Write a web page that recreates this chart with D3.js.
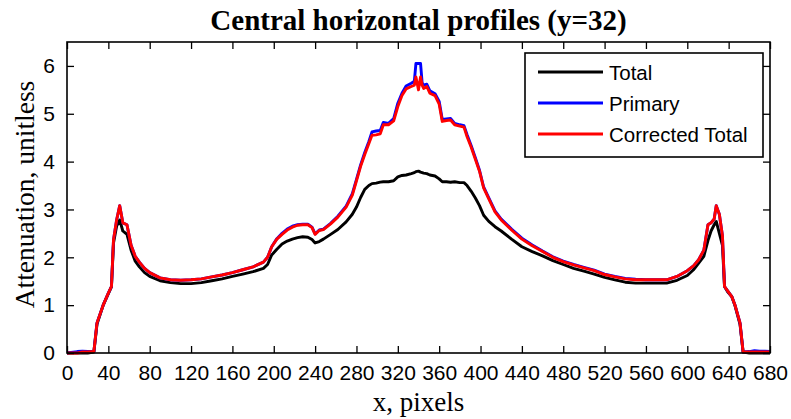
<!DOCTYPE html>
<html>
<head>
<meta charset="utf-8">
<script src="https://cdnjs.cloudflare.com/ajax/libs/d3/7.8.5/d3.min.js"></script>
<style>
  html, body { margin: 0; padding: 0; background: #fff; }
  svg { display: block; }
</style>
</head>
<body>
<svg id="chart" width="791" height="419"></svg>
<script>
// Column positions (pixels along the central row)
const xPos = [0, 10, 15, 20, 26, 29, 35, 40, 43, 45, 48, 51, 54, 58, 62, 66, 70, 75, 80, 90, 100, 110, 120, 130, 140, 150, 160, 170, 180, 190,
  194, 198, 203, 208, 213, 218, 223, 228, 233, 237, 240, 244, 248, 255, 262, 270, 276, 280, 284, 288, 292, 295, 299, 303, 306, 311, 316, 320, 324, 328,
  333, 336, 337.5, 340, 342, 343.5, 345, 348, 351, 356, 360, 363, 367, 371, 375, 380, 384, 387, 391, 395, 399, 403, 408, 414, 420, 430, 440, 450,
  460, 470, 480, 490, 500, 510, 520, 530, 540, 550, 560, 570, 580, 590, 600, 606, 611, 616, 620, 623, 626, 628, 631, 634, 636, 639, 643, 646,
  651, 654, 660, 665, 670, 675, 680];

// Total attenuation
const totalVals = [0, 0, 0, 0, 0.02, 0.6, 1.0, 1.24, 1.38, 2.3, 2.65, 2.78, 2.55, 2.48, 2.15, 1.92, 1.8, 1.68, 1.6, 1.51, 1.47, 1.45, 1.45, 1.47, 1.51, 1.55, 1.6, 1.65, 1.7, 1.77,
  1.85, 2.05, 2.17, 2.28, 2.34, 2.38, 2.41, 2.43, 2.42, 2.37, 2.30, 2.33, 2.38, 2.48, 2.58, 2.74, 2.9, 3.05, 3.25, 3.42, 3.5, 3.54, 3.55, 3.57, 3.58, 3.58, 3.60, 3.68, 3.71, 3.72,
  3.75, 3.77, 3.79, 3.80, 3.78, 3.77, 3.76, 3.75, 3.72, 3.70, 3.64, 3.58, 3.58, 3.57, 3.58, 3.56, 3.56, 3.50, 3.38, 3.24, 3.08, 2.88, 2.75, 2.64, 2.55, 2.38, 2.22, 2.12,
  2.03, 1.93, 1.85, 1.77, 1.71, 1.65, 1.58, 1.53, 1.48, 1.46, 1.46, 1.46, 1.46, 1.52, 1.62, 1.74, 1.88, 2.02, 2.35, 2.55, 2.68, 2.75, 2.5, 2.25, 1.39, 1.28, 1.18, 1.0,
  0.6, 0.02, 0, 0, 0, 0, 0];

// Primary attenuation
const primaryVals = [0, 0.03, 0.04, 0.03, 0.03, 0.63, 1.0, 1.25, 1.39, 2.37, 2.78, 3.08, 2.72, 2.68, 2.25, 2.02, 1.9, 1.77, 1.68, 1.57, 1.53, 1.52, 1.53, 1.55, 1.59, 1.63, 1.68, 1.74, 1.8, 1.9,
  2.0, 2.22, 2.39, 2.5, 2.59, 2.65, 2.68, 2.69, 2.69, 2.63, 2.49, 2.57, 2.59, 2.71, 2.86, 3.07, 3.33, 3.63, 3.93, 4.19, 4.42, 4.62, 4.64, 4.65, 4.82, 4.8, 4.9, 5.22, 5.43, 5.58,
  5.64, 5.68, 6.05, 6.05, 6.05, 5.65, 5.6, 5.62, 5.48, 5.42, 5.26, 4.88, 4.89, 4.9, 4.8, 4.77, 4.75, 4.56, 4.33, 4.08, 3.82, 3.47, 3.24, 2.97, 2.8, 2.59, 2.4, 2.26,
  2.13, 2.01, 1.92, 1.85, 1.79, 1.73, 1.65, 1.6, 1.56, 1.54, 1.53, 1.53, 1.53, 1.6, 1.72, 1.82, 1.95, 2.15, 2.68, 2.72, 2.8, 3.08, 2.9, 2.45, 1.39, 1.3, 1.18, 1.01,
  0.63, 0.02, 0.03, 0.05, 0.04, 0.04, 0.03];

// Corrected total attenuation
const correctedVals = [0, 0, 0.02, 0.02, 0.03, 0.63, 1.0, 1.25, 1.39, 2.37, 2.78, 3.08, 2.72, 2.68, 2.25, 2.02, 1.9, 1.77, 1.68, 1.57, 1.53, 1.52, 1.53, 1.55, 1.59, 1.63, 1.68, 1.74, 1.8, 1.9,
  2.0, 2.22, 2.38, 2.48, 2.57, 2.63, 2.67, 2.68, 2.68, 2.62, 2.48, 2.56, 2.58, 2.70, 2.84, 3.05, 3.3, 3.6, 3.9, 4.15, 4.38, 4.55, 4.56, 4.58, 4.77, 4.77, 4.85, 5.15, 5.38, 5.52,
  5.57, 5.6, 5.77, 5.5, 5.77, 5.6, 5.53, 5.57, 5.43, 5.38, 5.2, 4.84, 4.86, 4.87, 4.77, 4.74, 4.72, 4.52, 4.3, 4.05, 3.8, 3.45, 3.22, 2.95, 2.78, 2.57, 2.38, 2.24,
  2.12, 2.0, 1.91, 1.84, 1.78, 1.72, 1.64, 1.59, 1.55, 1.53, 1.53, 1.53, 1.53, 1.6, 1.72, 1.82, 1.95, 2.15, 2.68, 2.72, 2.8, 3.08, 2.9, 2.45, 1.39, 1.3, 1.18, 1.01,
  0.63, 0.02, 0.02, 0.02, 0.02, 0.02, 0.02];

const xTicks = [0, 40, 80, 120, 160, 200, 240, 280, 320, 360, 400, 440, 480, 520, 560, 600, 640, 680];
const yTicks = [0, 1, 2, 3, 4, 5, 6];

const seriesNames = ["Total", "Primary", "Corrected Total"];
const seriesColors = ["#000000", "#0000ff", "#ff0000"];
const seriesVals = [totalVals, primaryVals, correctedVals];

const svg = d3.select("#chart");
const plot = { left: 67, right: 770, top: 42, bottom: 353 };

const x = d3.scaleLinear().domain([0, 680]).range([plot.left, plot.right]);
const y = d3.scaleLinear().domain([0, 6.5]).range([plot.bottom, plot.top]);

const tickFont = "'Liberation Sans', Arial, sans-serif";
const serif = "'Liberation Serif', 'Times New Roman', serif";

// Data lines, drawn under the axis frame
const line = d3.line()
  .x(d => x(d[0]))
  .y(d => y(d[1]));

seriesVals.forEach((vals, i) => {
  const pts = xPos.map((xv, j) => [xv, vals[j]]);
  svg.append("path")
    .datum(pts)
    .attr("fill", "none")
    .attr("stroke", seriesColors[i])
    .attr("stroke-width", 2.9)
    .attr("stroke-linejoin", "round")
    .attr("d", line);
});

// Axes with inward ticks on all four sides
const tickLen = 7;
const bottomAxis = d3.axisBottom(x).tickValues(xTicks).tickSizeInner(-tickLen).tickSizeOuter(0).tickPadding(12).tickFormat(d3.format("d"));
const topAxis = d3.axisTop(x).tickValues(xTicks).tickSizeInner(-tickLen).tickSizeOuter(0).tickFormat("");
const leftAxis = d3.axisLeft(y).tickValues(yTicks).tickSizeInner(-tickLen).tickSizeOuter(0).tickPadding(12).tickFormat(d3.format("d"));
const rightAxis = d3.axisRight(y).tickValues(yTicks).tickSizeInner(-tickLen).tickSizeOuter(0).tickFormat("");

function styleAxis(g) {
  g.select(".domain").remove();
  g.selectAll(".tick line").attr("stroke", "#000").attr("stroke-width", 1.3);
  g.selectAll(".tick text")
    .attr("fill", "#000")
    .style("font-family", tickFont)
    .style("font-size", "21px");
}

svg.append("g").attr("transform", `translate(0,${plot.bottom})`).call(bottomAxis).call(styleAxis);
svg.append("g").attr("transform", `translate(0,${plot.top})`).call(topAxis).call(styleAxis);
svg.append("g").attr("transform", `translate(${plot.left},0)`).call(leftAxis).call(styleAxis);
svg.append("g").attr("transform", `translate(${plot.right},0)`).call(rightAxis).call(styleAxis);

// Frame
svg.append("rect")
  .attr("x", plot.left).attr("y", plot.top)
  .attr("width", plot.right - plot.left).attr("height", plot.bottom - plot.top)
  .attr("fill", "none").attr("stroke", "#000").attr("stroke-width", 1.6);

// Title and axis labels
svg.append("text")
  .attr("x", (plot.left + plot.right) / 2).attr("y", 30)
  .attr("text-anchor", "middle")
  .style("font-family", serif).style("font-weight", "bold").style("font-size", "29px")
  .text("Central horizontal profiles (y=32)");

svg.append("text")
  .attr("x", (plot.left + plot.right) / 2).attr("y", 411)
  .attr("text-anchor", "middle")
  .style("font-family", serif).style("font-size", "27px")
  .text("x, pixels");

svg.append("text")
  .attr("transform", `translate(34,${(plot.top + plot.bottom) / 2 - 3}) rotate(-90)`)
  .attr("text-anchor", "middle")
  .style("font-family", serif).style("font-size", "27.5px")
  .text("Attenuation, unitless");

// Legend
const legend = svg.append("g");
legend.append("rect")
  .attr("x", 525).attr("y", 53).attr("width", 238).attr("height", 104)
  .attr("fill", "#fff").attr("stroke", "#000").attr("stroke-width", 1.6);

seriesNames.forEach((name, i) => {
  const ly = 72 + i * 31;
  legend.append("line")
    .attr("x1", 538).attr("x2", 603).attr("y1", ly).attr("y2", ly)
    .attr("stroke", seriesColors[i]).attr("stroke-width", 2.8);
  legend.append("text")
    .attr("x", 609).attr("y", ly)
    .attr("dominant-baseline", "central")
    .style("font-family", tickFont).style("font-size", "20.5px")
    .text(name);
});
</script>
</body>
</html>
